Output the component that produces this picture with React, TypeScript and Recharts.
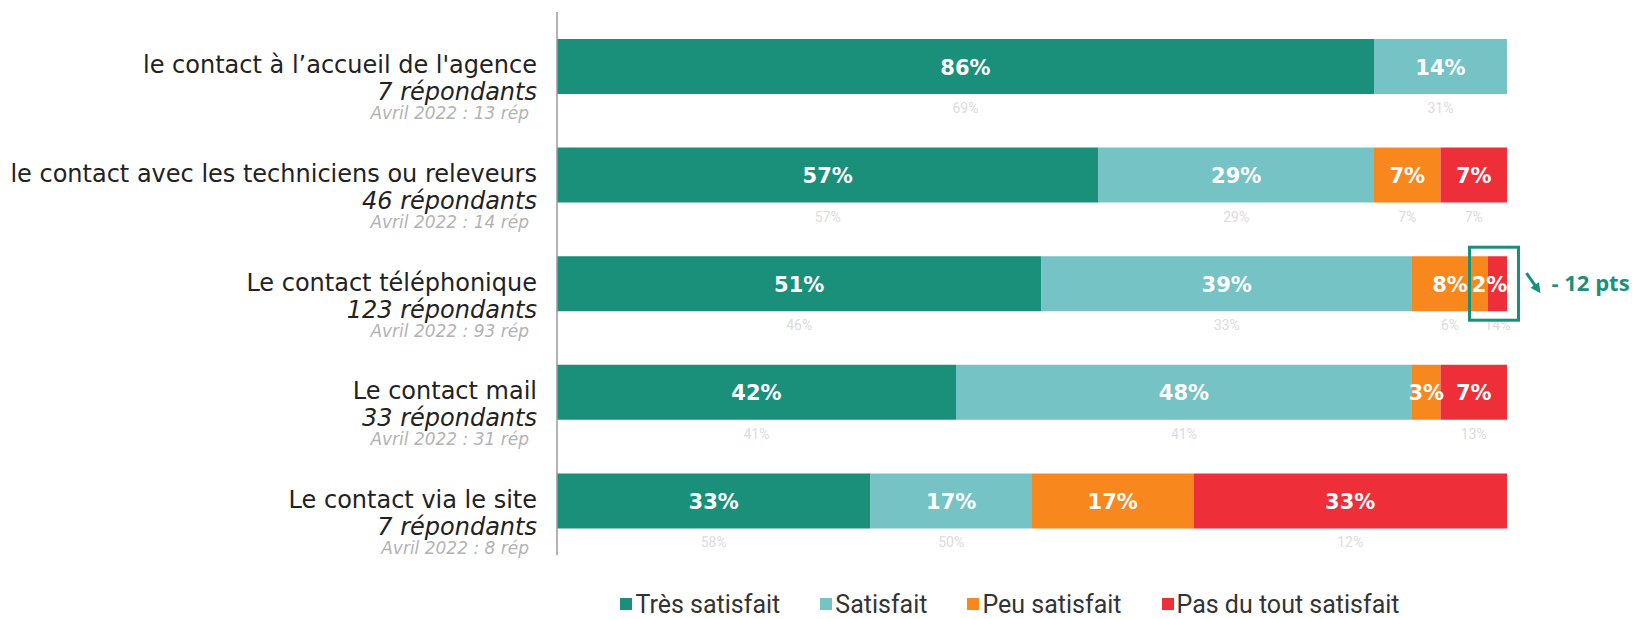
import { BarChart, Bar, XAxis, YAxis, LabelList, Legend } from "recharts";

const categories = [
  "le contact à l’accueil de l'agence",
  "le contact avec les techniciens ou releveurs",
  "Le contact téléphonique",
  "Le contact mail",
  "Le contact via le site",
];
const respondents = ["7 répondants", "46 répondants", "123 répondants", "33 répondants", "7 répondants"];
const lastWave = [
  "Avril 2022 : 13 rép",
  "Avril 2022 : 14 rép",
  "Avril 2022 : 93 rép",
  "Avril 2022 : 31 rép",
  "Avril 2022 : 8 rép",
];

const tresSatisfait = [86, 57, 51, 42, 33];
const satisfait = [14, 29, 39, 48, 17];
const peuSatisfait = [0, 7, 8, 3, 17];
const pasSatisfait = [0, 7, 2, 7, 33];

// previous wave (April 2022), printed faintly under each bar
const prevTres = [69, 57, 46, 41, 58];
const prevSat = [31, 29, 33, 41, 50];
const prevPeu = [null, 7, 6, null, null];
const prevPas = [null, 7, 14, 13, 12];

const evolution = [null, null, "- 12 pts", null, null];

const series = [
  { key: "tres", prev: "prevTres", name: "Très satisfait", color: "#1a8f7a" },
  { key: "sat", prev: "prevSat", name: "Satisfait", color: "#76c3c5" },
  { key: "peu", prev: "prevPeu", name: "Peu satisfait", color: "#f8871d" },
  { key: "pas", prev: "prevPas", name: "Pas du tout satisfait", color: "#ee2f3a" },
];

const data = categories.map((name, i) => ({
  name,
  tres: tresSatisfait[i],
  sat: satisfait[i],
  peu: peuSatisfait[i],
  pas: pasSatisfait[i],
  prevTres: prevTres[i],
  prevSat: prevSat[i],
  prevPeu: prevPeu[i],
  prevPas: prevPas[i],
  evolution: evolution[i],
}));

const TEAL = "#1a8f7a";

function ValueLabel(props: any) {
  const { x, y, width, height, value } = props;
  if (!value) return null;
  let cx = x + width / 2;
  if (width < 26) cx -= 8;
  return (
    <text x={cx} y={y + height / 2 + 8} textAnchor="middle" fill="#fff" fontSize={21} fontWeight={700} fontFamily="DejaVu Sans">
      {value}%
    </text>
  );
}

function FaintLabel(props: any) {
  const { x, y, width, height, value } = props;
  if (value == null) return null;
  return (
    <text x={x + width / 2} y={y + height + 19} textAnchor="middle" fill="#dcdcdc" fontSize={14} fontFamily="Roboto">
      {value}%
    </text>
  );
}

function EvolutionMark(props: any) {
  const { x, y, width, height, value } = props;
  if (!value) return null;
  const cx = x + width / 2;
  return (
    <g>
      <rect x={cx - 28} y={y - 9} width={49} height={height + 18} fill="none" stroke={TEAL} strokeWidth={3} />
      <line x1={cx + 29} y1={y + 17} x2={cx + 38} y2={y + 30} stroke={TEAL} strokeWidth={3} />
      <polygon
        points={`${cx + 43},${y + 37} ${cx + 33},${y + 31.5} ${cx + 41.5},${y + 26}`}
        fill={TEAL}
      />
      <text x={cx + 54} y={y + 35} fill={TEAL} fontSize={22} fontWeight={700} fontFamily="Open Sans">
        {value}
      </text>
    </g>
  );
}

function CategoryTick(props: any) {
  const { x, y, payload } = props;
  const i = categories.indexOf(payload.value);
  return (
    <g>
      <text x={x} y={y + 7} textAnchor="end" fill="#222" fontSize={24} fontFamily="DejaVu Sans">
        {payload.value}
      </text>
      <text x={x} y={y + 34} textAnchor="end" fill="#222" fontSize={24} fontStyle="italic" fontFamily="DejaVu Sans">
        {respondents[i]}
      </text>
      <text x={x - 8} y={y + 53} textAnchor="end" fill="#b3b3b3" fontSize={17} fontStyle="italic" fontFamily="DejaVu Sans">
        {lastWave[i]}
      </text>
    </g>
  );
}

function LegendContent() {
  return (
    <div style={{ display: "flex", justifyContent: "center", gap: 40, height: 26, alignItems: "center", fontFamily: "Roboto", fontSize: 25, color: "#333" }}>
      {series.map((s) => (
        <span key={s.key} style={{ display: "flex", alignItems: "center" }}>
          <span style={{ width: 12, height: 12, background: s.color, marginRight: 3, display: "inline-block" }} />
          {s.name}
        </span>
      ))}
    </div>
  );
}

export default function App() {
  return (
    <div style={{ width: 1636, height: 619, background: "#fff" }}>
      <style>{"body{margin:0}"}</style>
      <BarChart
        width={1636}
        height={619}
        data={data}
        layout="vertical"
        margin={{ top: 12, right: 129, left: 0, bottom: 38 }}
        barSize={55}
      >
        <XAxis type="number" domain={[0, 100]} hide />
        <YAxis
          type="category"
          dataKey="name"
          width={557}
          tickLine={false}
          tickSize={0}
          tickMargin={20}
          axisLine={{ stroke: "#9a9a9a", strokeWidth: 1.5 }}
          tick={<CategoryTick />}
          interval={0}
        />
        <Legend content={<LegendContent />} wrapperStyle={{ left: 580, width: 860, top: 591 }} />
        {series.map((s) => (
          <Bar key={s.key} dataKey={s.key} name={s.name} stackId="a" fill={s.color} isAnimationActive={false}>
            <LabelList dataKey={s.key} content={<ValueLabel />} />
            <LabelList dataKey={s.prev} content={<FaintLabel />} />
            {s.key === "pas" && <LabelList dataKey="evolution" content={<EvolutionMark />} />}
          </Bar>
        ))}
      </BarChart>
    </div>
  );
}
